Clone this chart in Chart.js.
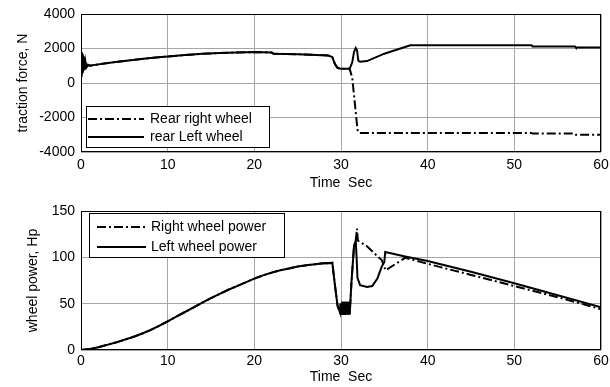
<!DOCTYPE html>
<html>
<head>
<meta charset="utf-8">
<script src="https://cdn.jsdelivr.net/npm/chart.js@4/dist/chart.umd.min.js"></script>
<style>
  html, body { margin: 0; padding: 0; background: #fff; }
  .panel { position: absolute; left: 0; width: 610px; }
</style>
</head>
<body>
<div class="panel" style="top:0;height:192px"><canvas id="force-chart" width="610" height="192"></canvas></div>
<div class="panel" style="top:192px;height:195px"><canvas id="power-chart" width="610" height="195"></canvas></div>
<script>
// Traction force - both wheels follow the same curve until ~31 s
const forceTime = [0, 0.05, 0.1, 0.15, 0.2, 0.25, 0.3, 0.35, 0.4, 0.5, 0.6, 0.8, 1, 2, 4, 6, 8, 10, 12, 14, 16, 18, 20, 22, 22.2, 25, 28.5, 29, 29.3, 29.6, 30, 31];
const forceShared = [400, 1800, 500, 1700, 600, 1550, 700, 1400, 800, 1250, 900, 1050, 1000, 1080, 1220, 1340, 1450, 1540, 1620, 1690, 1740, 1770, 1790, 1770, 1700, 1670, 1600, 1500, 1100, 880, 820, 820];

const forceLeftTime = [31.3, 31.5, 31.7, 31.85, 32, 32.2, 33, 35, 38, 52, 52.1, 57, 57.1, 60];
const forceLeftTail = [1200, 1800, 2030, 1900, 1300, 1230, 1270, 1700, 2190, 2190, 2120, 2120, 2060, 2060];

const forceRightTime = [31.3, 31.6, 31.9, 32.1, 33, 52, 52.1, 57, 57.1, 60];
const forceRightTail = [300, -1200, -2700, -2900, -2900, -2900, -2930, -2930, -3000, -3000];

// Wheel power - shared until ~31.7 s
const powerTime = [0, 1, 2, 3, 4, 5, 6, 7, 8, 9, 10, 11, 12, 13, 14, 15, 16, 17, 18, 19, 20,
    21, 22, 23, 24, 25, 26, 27, 28, 29, 29.3, 29.6, 29.9,
    29.95, 30.05, 30.15, 30.25, 30.35, 30.45, 30.55, 30.65, 30.75, 30.85, 30.95, 31.0, 31.2, 31.5, 31.7];
const powerShared = [0, 1, 3, 5.5, 8, 11, 14, 17.5, 21.5, 26, 31, 36, 41, 46, 51, 56, 60.5, 65, 69, 73, 77,
    80.5, 83.5, 86, 88, 90, 91.5, 92.5, 93.5, 94, 70, 48, 40,
    50, 38, 52, 38, 52, 38, 52, 38, 52, 38, 52, 38, 72, 112, 118];

const powerRightTime = [31.85, 31.95, 33, 34, 34.7, 35.15, 37.4, 40, 45, 50, 55, 60];
const powerRightTail = [131, 118, 112, 103, 97, 86, 99.5, 93, 81, 69, 57, 44];

const powerLeftTime = [31.8, 31.9, 32.2, 33, 33.6, 34.2, 34.7, 35.0, 35.1, 37.4, 40, 45, 50, 55, 60];
const powerLeftTail = [100, 78, 70, 68, 69, 77, 90, 95, 105.7, 101, 96, 84.5, 72, 59, 46];

const xTicks = [0, 10, 20, 30, 40, 50, 60];

const FONT = '"Liberation Sans", Arial, sans-serif';
Chart.defaults.font.family = FONT;
Chart.defaults.font.size = 14;
Chart.defaults.color = '#000';

const toPoints = (ts, vs) => ts.map((t, i) => ({ x: t, y: vs[i] }));

// Black box around the plot area
const framePlugin = {
    id: 'frame',
    afterDraw(chart) {
        const { ctx, chartArea: a } = chart;
        ctx.save();
        ctx.strokeStyle = '#000';
        ctx.lineWidth = 1;
        ctx.strokeRect(a.left + 0.5, a.top + 0.5, a.width - 1, a.height - 1);
        ctx.restore();
    }
};

// MATLAB style legend box drawn inside the plot area
const boxLegend = {
    id: 'boxLegend',
    afterDatasetsDraw(chart, args, opts) {
        const { ctx, chartArea: a } = chart;
        const x = Math.round(a.left + opts.x), y = Math.round(a.top + opts.y);
        ctx.save();
        ctx.fillStyle = '#fff';
        ctx.fillRect(x, y, opts.width, opts.height);
        ctx.strokeStyle = '#000';
        ctx.lineWidth = 1;
        ctx.strokeRect(x + 0.5, y + 0.5, opts.width, opts.height);
        ctx.font = '14px ' + FONT;
        ctx.textBaseline = 'middle';
        chart.data.datasets.forEach((ds, i) => {
            const rowY = y + opts.rowTop + i * opts.rowGap;
            ctx.beginPath();
            ctx.setLineDash(ds.borderDash || []);
            ctx.lineWidth = ds.borderWidth;
            ctx.strokeStyle = ds.borderColor;
            ctx.moveTo(x + opts.lineStart, rowY);
            ctx.lineTo(x + opts.lineEnd, rowY);
            ctx.stroke();
            ctx.setLineDash([]);
            ctx.fillStyle = '#000';
            ctx.fillText(ds.label, x + opts.textX, rowY);
        });
        ctx.restore();
    }
};

const lineStyle = (dashed) => ({
    borderColor: '#000',
    borderWidth: 2,
    borderDash: dashed ? [9, 3, 2, 3] : [],
    pointRadius: 0,
    tension: 0,
    fill: false
});

const makeChart = (id, datasets, yCfg, yTitle, legendCfg, pad, xHeight, xTickPad, yTitlePad, xTitlePad) => {
    new Chart(document.getElementById(id), {
        type: 'line',
        data: { datasets },
        plugins: [framePlugin, boxLegend],
        options: {
            responsive: false,
            animation: false,
            events: [],
            layout: { padding: pad },
            scales: {
                x: {
                    type: 'linear',
                    min: 0, max: 60,
                    afterBuildTicks: s => { s.ticks = xTicks.map(v => ({ value: v })); },
                    grid: { color: '#a6a6a6', lineWidth: 1, drawTicks: false },
                    border: { display: false },
                    ticks: { padding: xTickPad, maxRotation: 0, callback: v => String(v) },
                    title: { display: true, text: 'Time  Sec', padding: { top: 0, bottom: xTitlePad } },
                    afterFit: s => { s.height = xHeight; s.paddingLeft = 0; s.paddingRight = 0; }
                },
                y: {
                    min: yCfg.min, max: yCfg.max,
                    afterBuildTicks: s => { s.ticks = yCfg.ticks.map(v => ({ value: v })); },
                    grid: { color: '#a6a6a6', lineWidth: 1, drawTicks: false },
                    border: { display: false },
                    ticks: { padding: 6, callback: v => String(v) },
                    title: { display: true, text: yTitle, padding: { top: yTitlePad, bottom: 0 } },
                    afterFit: s => { s.width = 81; s.paddingTop = 0; s.paddingBottom = 0; }
                }
            },
            plugins: {
                legend: { display: false },
                tooltip: { enabled: false },
                boxLegend: legendCfg
            }
        }
    });
};

// Top panel: traction force
makeChart('force-chart', [
    Object.assign({ label: 'Rear right wheel',
        data: toPoints(forceTime.concat(forceRightTime), forceShared.concat(forceRightTail)) }, lineStyle(true)),
    Object.assign({ label: 'rear Left wheel',
        data: toPoints(forceTime.concat(forceLeftTime), forceShared.concat(forceLeftTail)) }, lineStyle(false))
], { min: -4000, max: 4000, ticks: [-4000, -2000, 0, 2000, 4000] }, 'traction force, N',
    { x: 5, y: 92, width: 183, height: 41, rowTop: 13, rowGap: 18, lineStart: 2, lineEnd: 58, textX: 64 },
    { top: 14, right: 9, bottom: 0, left: 0 }, 40, 5, 15, 0);

// Bottom panel: wheel power
makeChart('power-chart', [
    Object.assign({ label: 'Right wheel power',
        data: toPoints(powerTime.concat(powerRightTime), powerShared.concat(powerRightTail)) }, lineStyle(true)),
    Object.assign({ label: 'Left wheel power',
        data: toPoints(powerTime.concat(powerLeftTime), powerShared.concat(powerLeftTail)) }, lineStyle(false))
], { min: 0, max: 150, ticks: [0, 50, 100, 150] }, 'wheel power, Hp',
    { x: 8, y: 2, width: 195, height: 44, rowTop: 14, rowGap: 20, lineStart: 8, lineEnd: 57, textX: 62 },
    { top: 19, right: 9, bottom: 0, left: 0 }, 37, 3, 25, 1);
</script>
</body>
</html>
